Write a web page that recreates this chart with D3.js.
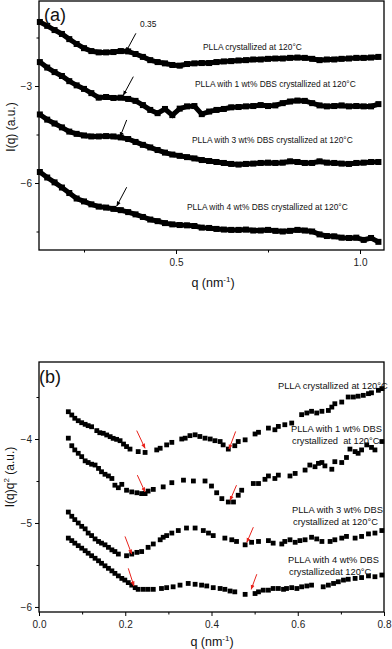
<!DOCTYPE html>
<html>
<head>
<meta charset="utf-8">
<script src="https://cdn.jsdelivr.net/npm/d3@7"></script>
<style>
  body { margin: 0; background: #fff; }
  svg { display: block; font-family: "Liberation Sans", Arial, sans-serif; }
  .axis path, .axis line { stroke: #000; stroke-width: 1; }
  .axis text { font-size: 10px; fill: #222; }
</style>
</head>
<body>
<svg id="chart" width="392" height="649"></svg>
<script>
// ---- panel (a) data: log intensity vs q ----
const qA = [0.13,0.15,0.17,0.19,0.21,0.23,0.25,0.27,0.29,0.31,0.33,0.35,0.37,0.39,0.41,0.43,0.45,0.47,0.49,0.51,
  0.53,0.55,0.57,0.59,0.61,0.63,0.65,0.67,0.69,0.71,0.73,0.75,0.77,0.79,0.81,0.83,0.85,0.87,0.89,0.91,
  0.93,0.95,0.97,0.99,1.01,1.03,1.05];
const aPLLA = [-1.02,-1.14,-1.27,-1.39,-1.55,-1.70,-1.83,-1.92,-1.96,-1.96,-1.95,-1.92,-1.93,-2.01,-2.10,-2.20,-2.26,-2.30,-2.35,-2.37,
  -2.32,-2.30,-2.29,-2.29,-2.26,-2.24,-2.23,-2.21,-2.20,-2.18,-2.18,-2.16,-2.15,-2.15,-2.13,-2.12,-2.13,-2.16,-2.20,-2.18,
  -2.18,-2.16,-2.15,-2.13,-2.13,-2.12,-2.10];
const aDBS1 = [-2.26,-2.43,-2.57,-2.69,-2.85,-2.98,-3.09,-3.22,-3.36,-3.34,-3.37,-3.36,-3.40,-3.46,-3.59,-3.74,-3.84,-3.71,-3.90,-3.70,
  -3.63,-3.62,-3.87,-3.79,-3.74,-3.71,-3.66,-3.65,-3.63,-3.62,-3.59,-3.62,-3.60,-3.53,-3.48,-3.45,-3.46,-3.53,-3.60,-3.63,
  -3.62,-3.60,-3.63,-3.62,-3.63,-3.63,-3.56];
const aDBS3 = [-3.88,-4.04,-4.16,-4.28,-4.41,-4.48,-4.53,-4.56,-4.56,-4.55,-4.56,-4.59,-4.64,-4.73,-4.82,-4.90,-4.98,-5.06,-5.12,-5.16,
  -5.20,-5.24,-5.29,-5.32,-5.35,-5.38,-5.41,-5.43,-5.41,-5.40,-5.38,-5.37,-5.38,-5.37,-5.33,-5.35,-5.38,-5.38,-5.33,-5.37,
  -5.38,-5.40,-5.41,-5.38,-5.37,-5.35,-5.35];
const aDBS4 = [-5.66,-5.83,-5.98,-6.14,-6.31,-6.48,-6.57,-6.66,-6.73,-6.76,-6.80,-6.84,-6.90,-6.97,-7.05,-7.13,-7.18,-7.24,-7.28,-7.30,
  -7.31,-7.33,-7.38,-7.39,-7.42,-7.44,-7.45,-7.45,-7.44,-7.47,-7.47,-7.45,-7.48,-7.50,-7.48,-7.45,-7.47,-7.50,-7.59,-7.64,
  -7.65,-7.69,-7.70,-7.69,-7.76,-7.70,-7.82];
const labelsA = ["PLLA crystallized at 120\u00B0C", "PLLA with 1 wt% DBS crystallized at 120\u00B0C",
  "PLLA with 3 wt% DBS crystallized at 120\u00B0C", "PLLA with 4 wt% DBS crystallized at 120\u00B0C"];
// arrows [q0, v0, q1, v1]
const arrowsA = [[0.391,-1.37,0.364,-1.94],[0.384,-2.71,0.357,-3.28],[0.366,-4.05,0.348,-4.57],[0.366,-6.13,0.339,-6.71]];

// ---- panel (b) data: I(q)q^2 vs q ----
const qB1 = [0.068,0.076,0.083,0.091,0.099,0.107,0.114,0.122,0.134,0.141,0.149,0.157,0.165,0.172,0.180,0.188,0.196,0.203,0.211,0.230,
  0.246,0.273,0.281,0.296,0.308,0.331,0.339,0.350,0.362,0.373,0.385,0.397,0.408,0.420,0.427,0.439,0.454,0.462,0.478,0.501,
  0.509,0.532,0.547,0.555,0.570,0.586,0.609,0.621,0.632,0.644,0.656,0.671,0.679,0.686,0.702,0.717,0.729,0.740,0.752,0.764,
  0.771,0.787,0.795];
const bPLLA = [-3.675,-3.714,-3.753,-3.782,-3.806,-3.825,-3.841,-3.854,-3.90,-3.925,-3.932,-3.952,-3.972,-3.992,-4.004,-4.02,-4.06,-4.09,-4.12,-4.15,
  -4.16,-4.13,-4.11,-4.07,-4.04,-4.00,-3.99,-3.96,-3.95,-3.97,-3.99,-4.00,-4.02,-4.03,-4.07,-4.12,-4.08,-4.03,-4.01,-3.94,
  -3.92,-3.87,-3.89,-3.85,-3.83,-3.81,-3.71,-3.69,-3.67,-3.69,-3.67,-3.66,-3.62,-3.58,-3.56,-3.50,-3.50,-3.49,-3.48,-3.46,
  -3.45,-3.42,-3.40];
const qB2 = [0.068,0.076,0.083,0.091,0.099,0.107,0.114,0.122,0.130,0.138,0.145,0.153,0.161,0.169,0.176,0.184,0.192,0.203,0.215,0.227,
  0.238,0.246,0.253,0.265,0.288,0.308,0.335,0.358,0.385,0.400,0.412,0.424,0.439,0.451,0.462,0.470,0.497,0.509,0.524,0.532,
  0.547,0.555,0.582,0.594,0.617,0.628,0.640,0.648,0.656,0.663,0.679,0.686,0.702,0.713,0.721,0.733,0.740,0.748,0.760,0.771,
  0.779,0.795];
const bDBS1 = [-3.99,-4.08,-4.13,-4.17,-4.21,-4.26,-4.28,-4.30,-4.31,-4.35,-4.39,-4.42,-4.44,-4.47,-4.55,-4.58,-4.54,-4.61,-4.63,-4.64,
  -4.65,-4.65,-4.62,-4.60,-4.57,-4.52,-4.49,-4.50,-4.50,-4.56,-4.64,-4.71,-4.75,-4.75,-4.67,-4.61,-4.53,-4.53,-4.48,-4.44,
  -4.47,-4.43,-4.44,-4.41,-4.37,-4.31,-4.33,-4.29,-4.28,-4.32,-4.36,-4.27,-4.28,-4.22,-4.12,-4.15,-4.17,-4.13,-4.07,-4.10,
  -4.13,-4.03];
const qB3 = [0.068,0.076,0.083,0.091,0.099,0.107,0.114,0.122,0.130,0.138,0.145,0.153,0.161,0.169,0.176,0.184,0.203,0.215,0.227,0.238,
  0.253,0.265,0.281,0.288,0.296,0.308,0.323,0.342,0.362,0.381,0.393,0.404,0.431,0.447,0.458,0.478,0.493,0.509,0.532,0.543,
  0.563,0.570,0.582,0.594,0.605,0.617,0.632,0.644,0.656,0.675,0.686,0.702,0.713,0.733,0.748,0.764,0.779,0.795];
const bDBS3 = [-4.87,-4.92,-4.96,-5.00,-5.04,-5.07,-5.12,-5.15,-5.19,-5.22,-5.24,-5.26,-5.29,-5.32,-5.34,-5.37,-5.39,-5.37,-5.35,-5.34,
  -5.29,-5.25,-5.20,-5.17,-5.15,-5.12,-5.09,-5.06,-5.06,-5.09,-5.12,-5.15,-5.18,-5.20,-5.22,-5.26,-5.23,-5.22,-5.21,-5.24,
  -5.25,-5.22,-5.20,-5.23,-5.21,-5.20,-5.17,-5.19,-5.22,-5.22,-5.20,-5.18,-5.16,-5.18,-5.16,-5.13,-5.12,-5.09];
const qB4 = [0.068,0.076,0.083,0.091,0.099,0.107,0.114,0.122,0.130,0.138,0.145,0.153,0.161,0.169,0.176,0.184,0.192,0.199,0.207,0.215,
  0.223,0.230,0.242,0.253,0.265,0.284,0.296,0.311,0.327,0.346,0.362,0.377,0.389,0.404,0.420,0.431,0.443,0.454,0.478,0.501,
  0.509,0.520,0.532,0.543,0.555,0.567,0.574,0.586,0.598,0.609,0.621,0.632,0.659,0.671,0.683,0.694,0.706,0.717,0.733,0.748,
  0.764,0.779,0.795];
const bDBS4 = [-5.18,-5.21,-5.24,-5.27,-5.30,-5.33,-5.36,-5.39,-5.42,-5.45,-5.48,-5.51,-5.54,-5.57,-5.60,-5.63,-5.66,-5.68,-5.71,-5.74,
  -5.77,-5.79,-5.79,-5.79,-5.79,-5.78,-5.77,-5.76,-5.74,-5.72,-5.73,-5.74,-5.75,-5.77,-5.78,-5.79,-5.81,-5.82,-5.85,-5.84,
  -5.82,-5.80,-5.80,-5.78,-5.78,-5.79,-5.78,-5.77,-5.78,-5.76,-5.75,-5.74,-5.76,-5.74,-5.72,-5.70,-5.68,-5.67,-5.66,-5.65,
  -5.63,-5.64,-5.62];
const labelsB = [["PLLA crystallized at 120\u00B0C"], ["PLLA with 1 wt% DBS", "crystallized  at 120\u00B0C"],
  ["PLLA with 3 wt% DBS", "crystallized at 120\u00B0C"], ["PLLA with 4 wt% DBS", "crystallizedat 120\u00B0C"]];
const arrowsB = [[0.2266,-3.90,0.2458,-4.11],[0.456,-3.91,0.4406,-4.12],
  [0.228,-4.43,0.2458,-4.63],[0.458,-4.55,0.443,-4.73],
  [0.1994,-5.16,0.215,-5.37],[0.497,-5.05,0.482,-5.23],
  [0.207,-5.54,0.220,-5.75],[0.505,-5.61,0.492,-5.79]];

const svg = d3.select("#chart");
const defs = svg.append("defs");
function marker(id, col) {
  defs.append("marker").attr("id", id).attr("viewBox", "0 0 10 10")
    .attr("refX", 9).attr("refY", 5).attr("markerWidth", 5).attr("markerHeight", 5)
    .attr("orient", "auto")
    .append("path").attr("d", "M0,1 L10,5 L0,9 Z").attr("fill", col);
}
marker("headK", "#000");
marker("headR", "#e8231c");

function panel(box, xDom, yDom, xMaj, xMin, yMaj, yMin, xFmt) {
  const x = d3.scaleLinear().domain(xDom).range([box.l, box.r]);
  const y = d3.scaleLinear().domain(yDom).range([box.b, box.t]);
  const g = svg.append("g");
  g.append("g").attr("class", "axis").attr("transform", `translate(0,${box.b})`)
    .call(d3.axisBottom(x).tickValues(xMin).tickSize(2.5).tickSizeOuter(0).tickFormat(""));
  g.append("g").attr("class", "axis").attr("transform", `translate(0,${box.b})`)
    .call(d3.axisBottom(x).tickValues(xMaj).tickSize(4).tickSizeOuter(0).tickFormat(xFmt).tickPadding(5));
  g.append("g").attr("class", "axis").attr("transform", `translate(${box.l},0)`)
    .call(d3.axisLeft(y).tickValues(yMin).tickSize(2.5).tickSizeOuter(0).tickFormat(""));
  g.append("g").attr("class", "axis").attr("transform", `translate(${box.l},0)`)
    .call(d3.axisLeft(y).tickValues(yMaj).tickSize(4).tickSizeOuter(0).tickFormat(d3.format("d")).tickPadding(3));
  g.selectAll(".axis .domain").remove();
  g.append("rect").attr("x", box.l).attr("y", box.t).attr("width", box.r - box.l).attr("height", box.b - box.t)
    .attr("fill", "none").attr("stroke", "#000").attr("stroke-width", 1.3);
  return { x, y, g };
}

// ---- panel (a) ----
const pa = panel({ l: 39, r: 384, t: 1, b: 250 }, [0.1277, 1.0652], [-8.072, -0.371],
  [0.5, 1.0], [0.25, 0.75], [-3, -6], [-1.5, -4.5, -7.5], d3.format(".1f"));
const line = d3.line().x(d => pa.x(d[0])).y(d => pa.y(d[1]));
[aPLLA, aDBS1, aDBS3, aDBS4].forEach(s => {
  const pts = qA.map((q, i) => [q, s[i]]);
  pa.g.append("path").attr("d", line(pts)).attr("fill", "none").attr("stroke", "#000")
    .attr("stroke-width", 5).attr("stroke-linejoin", "miter");
  pa.g.selectAll(null).data(pts).join("rect")
    .attr("x", d => pa.x(d[0]) - 3).attr("y", d => pa.y(d[1]) - 3)
    .attr("width", 6).attr("height", 6).attr("fill", "#000");
});
pa.g.selectAll(null).data(arrowsA).join("line")
  .attr("x1", d => pa.x(d[0])).attr("y1", d => pa.y(d[1]))
  .attr("x2", d => pa.x(d[2])).attr("y2", d => pa.y(d[3]))
  .attr("stroke", "#000").attr("stroke-width", 1).attr("marker-end", "url(#headK)");
const posA = [[203, 50], [195, 87], [192, 143], [187, 210]];
labelsA.forEach((t, i) => {
  pa.g.append("text").attr("x", posA[i][0]).attr("y", posA[i][1]).attr("font-size", 8.4)
    .attr("fill", "#111").text(t);
});
pa.g.append("text").attr("x", 140).attr("y", 27).attr("font-size", 8.4).attr("fill", "#111").text("0.35");
pa.g.append("text").attr("x", 44).attr("y", 21).attr("font-size", 18).attr("fill", "#111").text("(a)");
const xlA = pa.g.append("text").attr("x", 213).attr("y", 287).attr("text-anchor", "middle")
  .attr("font-size", 12.5).attr("fill", "#111");
xlA.append("tspan").text("q (nm");
xlA.append("tspan").attr("dy", -5).attr("font-size", 8).text("-1");
xlA.append("tspan").attr("dy", 5).text(")");
pa.g.append("text").attr("transform", "translate(15,127) rotate(-90)").attr("text-anchor", "middle")
  .attr("font-size", 12).attr("fill", "#111").text("I(q) (a.u.)");

// ---- panel (b) ----
const pb = panel({ l: 39, r: 384, t: 362, b: 612 }, [0, 0.8], [-6.06, -3.083],
  [0, 0.2, 0.4, 0.6, 0.8], [0.1, 0.3, 0.5, 0.7], [-4, -5, -6], [-3.5, -4.5, -5.5], d3.format(".1f"));
[[qB1, bPLLA], [qB2, bDBS1], [qB3, bDBS3], [qB4, bDBS4]].forEach(([qs, s]) => {
  pb.g.selectAll(null).data(qs.map((q, i) => [q, s[i]])).join("rect")
    .attr("x", d => pb.x(d[0]) - 2.4).attr("y", d => pb.y(d[1]) - 2.4)
    .attr("width", 4.8).attr("height", 4.8).attr("fill", "#000");
});
pb.g.selectAll(null).data(arrowsB).join("line")
  .attr("x1", d => pb.x(d[0])).attr("y1", d => pb.y(d[1]))
  .attr("x2", d => pb.x(d[2])).attr("y2", d => pb.y(d[3]))
  .attr("stroke", "#e8231c").attr("stroke-width", 1).attr("marker-end", "url(#headR)");
const posB = [[278, 389], [291, 432], [292, 513], [288, 563]];
labelsB.forEach((lines, i) => {
  lines.forEach((t, j) => {
    pb.g.append("text").attr("x", posB[i][0] + (j ? 1 : 0)).attr("y", posB[i][1] + j * 11.5)
      .attr("font-size", 9.3).attr("fill", "#111").style("white-space", "pre").text(t);
  });
});
pb.g.append("text").attr("x", 39).attr("y", 383).attr("font-size", 18).attr("fill", "#111").text("(b)");
const xlB = pb.g.append("text").attr("x", 212).attr("y", 646).attr("text-anchor", "middle")
  .attr("font-size", 12.5).attr("fill", "#111");
xlB.append("tspan").text("q (nm");
xlB.append("tspan").attr("dy", -5).attr("font-size", 8).text("-1");
xlB.append("tspan").attr("dy", 5).text(")");
const ylB = pb.g.append("text").attr("transform", "translate(14,477) rotate(-90)").attr("text-anchor", "middle")
  .attr("font-size", 12).attr("fill", "#111");
ylB.append("tspan").text("I(q)q");
ylB.append("tspan").attr("dy", -5).attr("font-size", 8).text("2");
ylB.append("tspan").attr("dy", 5).text(" (a.u.)");
</script>
</body>
</html>
